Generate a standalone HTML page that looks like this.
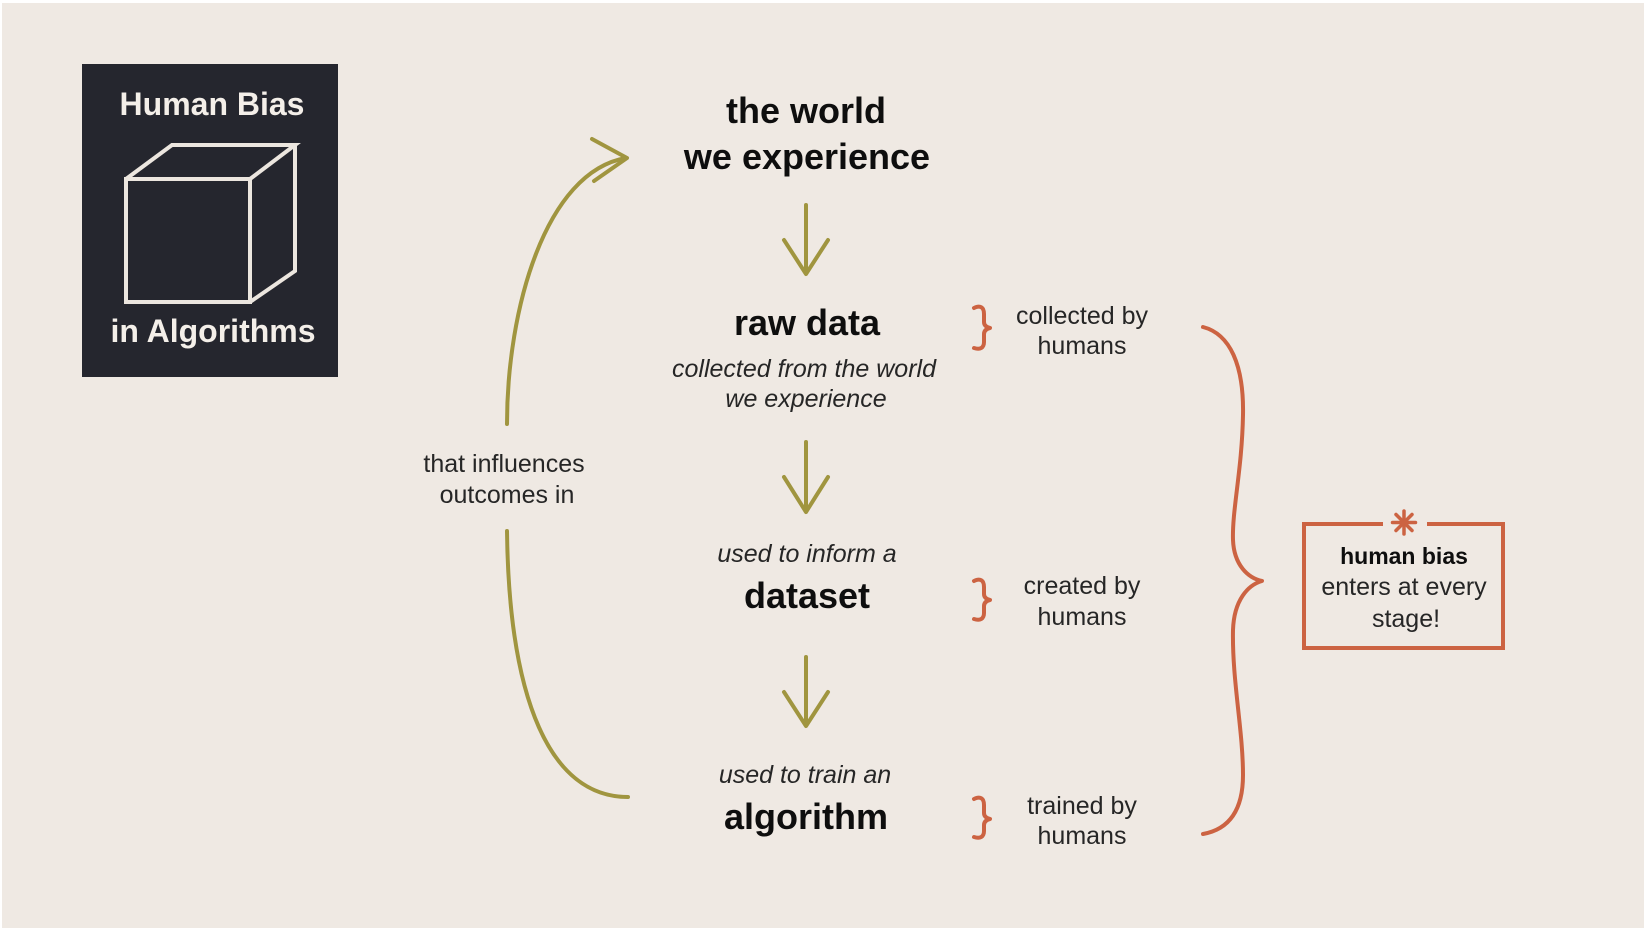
<!DOCTYPE html>
<html>
<head>
<meta charset="utf-8">
<style>
  html, body { margin:0; padding:0; background:#ffffff; }
  svg { display:block; }
  text { font-family: "Liberation Sans", Arial, sans-serif; }
  .b { font-weight:bold; fill:#0e0e0e; font-size:36px; }
  .i { font-style:italic; fill:#262626; font-size:25px; }
  .r { fill:#262626; font-size:25px; }
</style>
</head>
<body>
<svg width="1644" height="930" viewBox="0 0 1644 930" xmlns="http://www.w3.org/2000/svg">
  <rect x="0" y="0" width="1644" height="930" fill="#ffffff"/>
  <rect x="2" y="3" width="1642" height="925" fill="#efe9e3"/>

  <!-- Title box -->
  <rect x="82" y="64" width="256" height="313" fill="#25262e"/>
  <text x="212" y="115" text-anchor="middle" font-weight="bold" font-size="32" fill="#f4efe9">Human Bias</text>
  <text x="213" y="342" text-anchor="middle" font-weight="bold" font-size="32" fill="#f4efe9">in Algorithms</text>
  <g fill="none" stroke="#ece6df" stroke-width="4" stroke-linejoin="miter">
    <rect x="126" y="179" width="124" height="123"/>
    <polyline points="126,179 172,145 295,145 250,179"/>
    <polyline points="295,145 295,271 250,302"/>
  </g>

  <!-- Center column -->
  <text class="b" x="806" y="123" text-anchor="middle">the world</text>
  <text class="b" x="807" y="169" text-anchor="middle">we experience</text>

  <text class="b" x="807" y="335" text-anchor="middle">raw data</text>
  <text class="i" x="804" y="377" text-anchor="middle">collected from the world</text>
  <text class="i" x="806" y="407" text-anchor="middle">we experience</text>

  <text class="i" x="807" y="562" text-anchor="middle">used to inform a</text>
  <text class="b" x="807" y="608" text-anchor="middle">dataset</text>

  <text class="i" x="805" y="783" text-anchor="middle">used to train an</text>
  <text class="b" x="806" y="829" text-anchor="middle">algorithm</text>

  <!-- Straight arrows -->
  <g fill="none" stroke="#a0953f" stroke-width="4" stroke-linecap="round" stroke-linejoin="round">
    <line x1="806" y1="205" x2="806" y2="272"/>
    <polyline points="784,240 806,274 828,240"/>
    <line x1="806" y1="442" x2="806" y2="510"/>
    <polyline points="784,477 806,512 828,477"/>
    <line x1="806" y1="657" x2="806" y2="724"/>
    <polyline points="784,692 806,726 828,692"/>

    <!-- Feedback curve -->
    <path d="M507,424 C507,310 545,172 626,158"/>
    <polyline points="592,139 627,158 594,181"/>
    <path d="M507,531 C509,700 550,797 628,797"/>
  </g>

  <text class="r" x="504" y="472" text-anchor="middle">that influences</text>
  <text class="r" x="507" y="503" text-anchor="middle">outcomes in</text>

  <!-- Small braces -->
  <g fill="none" stroke="#cc6342" stroke-width="4" stroke-linecap="round" stroke-linejoin="round">
    <path d="M974,308 C980,305 984,307 984,314 L984,322 C984,325 986,327 990,328 C986,329 984,331 984,334 L984,342 C984,348 980,350 974,348"/>
    <path d="M974,581 C980,578 984,580 984,587 L984,594 C984,597 986,599 990,600 C986,601 984,603 984,606 L984,613 C984,619 980,621 974,619"/>
    <path d="M974,799 C980,796 984,798 984,805 L984,813 C984,816 986,818 990,819 C986,820 984,822 984,825 L984,831 C984,837 980,839 974,837"/>
    <!-- Big brace -->
    <path d="M1203,327 C1230,334 1244,365 1243,415 C1242,470 1232,510 1233,540 C1234,565 1248,578 1262,581 C1248,585 1234,600 1233,630 C1232,680 1243,730 1243,775 C1243,815 1225,830 1203,834"/>
  </g>

  <text class="r" x="1082" y="324" text-anchor="middle">collected by</text>
  <text class="r" x="1082" y="354" text-anchor="middle">humans</text>
  <text class="r" x="1082" y="594" text-anchor="middle">created by</text>
  <text class="r" x="1082" y="625" text-anchor="middle">humans</text>
  <text class="r" x="1082" y="814" text-anchor="middle">trained by</text>
  <text class="r" x="1082" y="844" text-anchor="middle">humans</text>

  <!-- Callout box -->
  <g fill="none" stroke="#cc6342" stroke-width="4" stroke-linecap="butt">
    <polyline points="1383,524 1304,524 1304,648 1503,648 1503,524 1427,524"/>
  </g>
  <g stroke="#cc6342" stroke-width="3.5" stroke-linecap="round">
    <line x1="1404" y1="511" x2="1404" y2="534"/>
    <line x1="1392.5" y1="522.5" x2="1415.5" y2="522.5"/>
    <line x1="1396" y1="514.5" x2="1412" y2="530.5"/>
    <line x1="1412" y1="514.5" x2="1396" y2="530.5"/>
  </g>
  <text x="1404" y="564" text-anchor="middle" font-weight="bold" font-size="23" fill="#0e0e0e">human bias</text>
  <text class="r" x="1404" y="595" text-anchor="middle" font-size="24">enters at every</text>
  <text class="r" x="1406" y="627" text-anchor="middle" font-size="24">stage!</text>
</svg>
</body>
</html>
